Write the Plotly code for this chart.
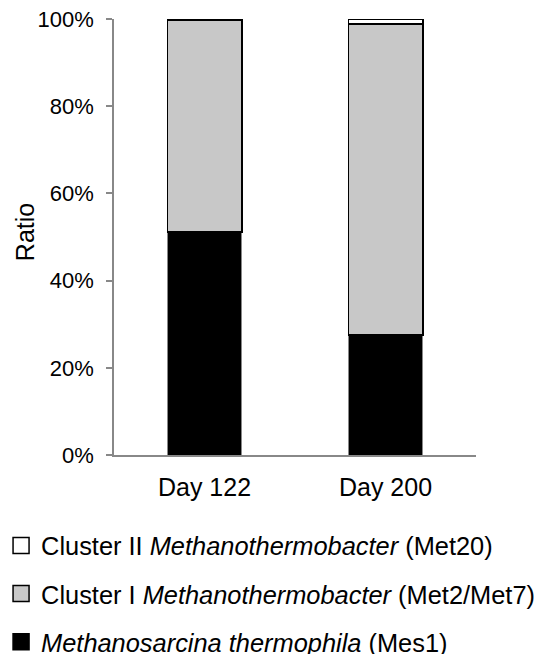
import plotly.graph_objects as go

categories = ["Day 122", "Day 200"]
mes1 = [51.1, 27.5]
met2_met7 = [48.6, 71.3]
met20 = [0.3, 1.2]
names = [
    "<i>Methanosarcina thermophila</i> (Mes1)",
    "Cluster I <i>Methanothermobacter</i> (Met2/Met7)",
    "Cluster II <i>Methanothermobacter</i> (Met20)",
]
fills = ["black", "#c8c8c8", "white"]
tick_vals = [0, 20, 40, 60, 80, 100]
tick_text = ["0%", "20%", "40%", "60%", "80%", "100%"]

font = "Liberation Sans, Arial, sans-serif"
fig = go.Figure()
fig.add_trace(go.Bar(x=categories, y=mes1, name=names[0], showlegend=False,
                     marker=dict(color=fills[0], line=dict(color="#888888", width=1))))
fig.add_trace(go.Bar(x=categories, y=met2_met7, name=names[1], showlegend=False,
                     marker=dict(color=fills[1], line=dict(color="black", width=1.8))))
fig.add_trace(go.Bar(x=categories, y=met20, name=names[2], showlegend=False,
                     marker=dict(color=fills[2], line=dict(color="black", width=1.8))))

# legend entries (larger square symbols)
for i, (nm, fc) in enumerate(zip(names, fills)):
    fig.add_trace(go.Scatter(x=[None], y=[None], mode="markers", name=nm,
                             legendgroup=f"g{i}", legendrank=3 - i,
                             marker=dict(symbol="square", size=19, color=fc,
                                         line=dict(color="black", width=1.5))))

fig.update_layout(
    barmode="stack",
    bargap=0.59,
    width=543, height=646,
    margin=dict(l=106, r=75, t=11, b=199, autoexpand=False),
    plot_bgcolor="white", paper_bgcolor="white",
    font=dict(family=font, size=21, color="black"),
    showlegend=True,
    legend=dict(
        traceorder="grouped",
        tracegroupgap=12,
        x=-0.312, y=-0.155, xanchor="left", yanchor="top",
        font=dict(size=25.4),
        itemsizing="trace",
    ),
    xaxis=dict(showline=True, linecolor="#888888", linewidth=1.5, ticks="",
               tickfont=dict(size=25), range=[-0.5, 1.5], automargin=False,
               ticklabelstandoff=9),
    yaxis=dict(range=[0, 100], tickvals=tick_vals, ticktext=tick_text,
               showline=True, linecolor="#888888", linewidth=1.5,
               ticks="outside", tickcolor="#888888", ticklen=6, tickwidth=1.5,
               showgrid=False, zeroline=False, automargin=False,
               ticklabeloverflow="allow", ticklabelstandoff=8,
               tickfont=dict(size=22)),
    annotations=[dict(text="Ratio", xref="paper", yref="paper", x=-0.246, y=0.511,
                      textangle=-90, showarrow=False, font=dict(size=25),
                      xanchor="center", yanchor="middle")],
)
fig.write_html("out.html")
